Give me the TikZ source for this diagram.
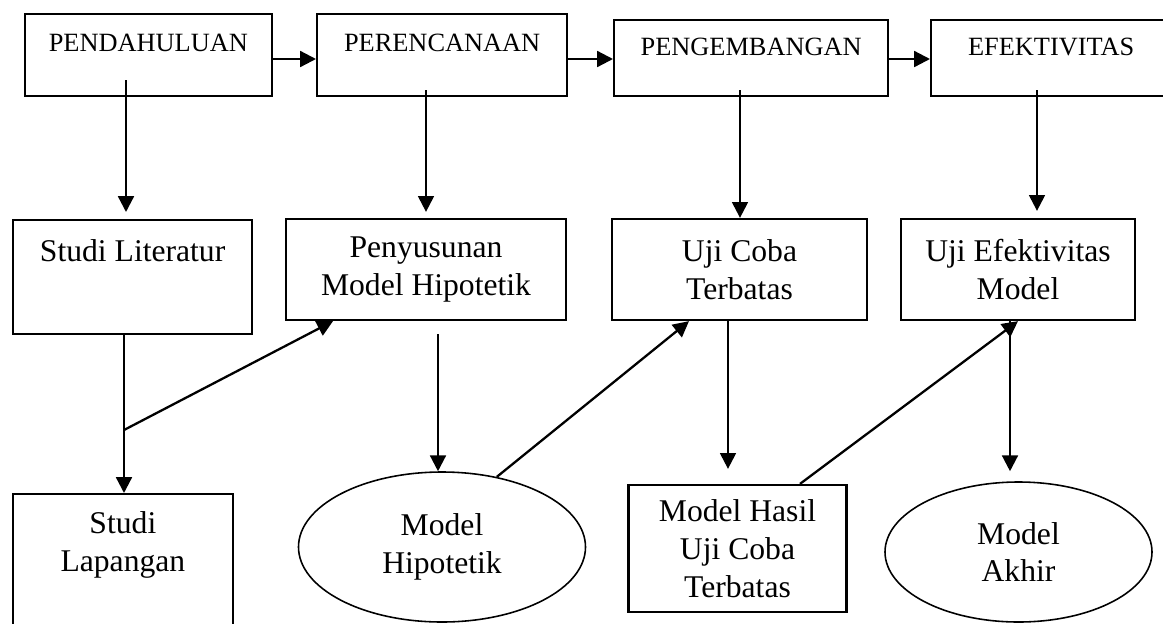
\documentclass[tikz,border=0pt]{standalone}
\usepackage{fontspec}
\setmainfont{Liberation Serif}
\usetikzlibrary{arrows.meta, shapes.geometric}
\newlength{\ux}
\setlength{\ux}{0.02cm}
\tikzset{
    kotak/.style={draw, line width=1.3pt, inner sep=0pt, align=center, font=\fontsize{18}{21.5}\selectfont},
    tahap/.style={kotak, anchor=north west, font=\fontsize{15}{18}\selectfont},
    oval/.style={draw, ellipse, line width=0.9pt, inner sep=0pt, align=center, font=\fontsize{18}{21.5}\selectfont},
    panah/.style={-{Triangle[length=9pt,width=9pt]}, line width=1.3pt},
}
\begin{document}
\begin{tikzpicture}[x=0.02cm, y=-0.02cm]
    \useasboundingbox (0,0) rectangle (1163,623);
    % Tahapan
    \foreach \nama/\teks/\x/\y/\w/\atas/\bawah in {pend/PENDAHULUAN/23.7/13/247/37/45, pere/PERENCANAAN/316/13/250/37/45, peng/PENGEMBANGAN/613/19/274/35/41, efek/EFEKTIVITAS/930/19/240/35/41} {
        \node[tahap, minimum width=\w\ux, text height=\atas\ux, text depth=\bawah\ux] (\nama) at (\x,\y) {\teks};
    }
    % Kegiatan
    \node[kotak, anchor=north west, minimum width=239\ux, text height=41\ux, text depth=73\ux] (lit) at (12,219) {Studi Literatur};
    \foreach \nama/\teks/\x/\w in {susun/{Penyusunan\\Model Hipotetik}/426/280, uji/{Uji Coba\\Terbatas}/739.5/255, efk/{Uji Efektivitas\\Model}/1018/233.5} {
        \node[kotak, minimum width=\w\ux, minimum height=101\ux] (\nama) at (\x,269.5) {\teks};
    }
    % Hasil
    \node[kotak, anchor=north west, minimum width=219.5\ux, minimum height=170\ux] (lap) at (12,493) {Studi\\Lapangan\\~\\~};
    \node[oval, minimum width=287\ux, minimum height=150\ux] (hipo) at (442,547) {Model\\Hipotetik};
    \node[kotak, minimum width=218\ux, minimum height=127\ux] (hasil) at (737.5,548.5) {Model Hasil\\Uji Coba\\Terbatas};
    \node[oval, minimum width=267\ux, minimum height=140\ux] (akhir) at (1018.5,552) {Model\\Akhir};
    % Panah
    \foreach \a/\b in {pend/pere, pere/peng, peng/efek} {
        \draw[panah] (\a.east |- 0,59) -- (\b.west |- 0,59);
    }
    \foreach \a/\b/\x/\s/\e in {pend/lit/126/17/7, pere/susun/426/7/6, peng/uji/740/7/0, efek/efk/1037/7/7} {
        \draw[panah, shorten <=-\s\ux, shorten >=\e\ux] (\a.south -| \x,0) -- (\b.north -| \x,0);
    }
    \coordinate (cabang) at (124,430);
    \draw[panah] (lit.south -| cabang) -- (lap.north -| cabang);
    \draw[panah] (cabang) -- (susun.south -| 333,0);
    \draw[panah, shorten <=13\ux] (susun.south -| 438,0) -- (hipo.north -| 438,0);
    \draw[panah] (hipo.52) -- (uji.south -| 689,0);
    \draw[panah, shorten >=15\ux] (uji.south -| 728,0) -- (hasil.north -| 728,0);
    \draw[panah] (hasil.north -| 800,0) -- (efk.south);
    \draw[panah, shorten >=10\ux] (efk.south -| 1010,0) -- (akhir.north -| 1010,0);
\end{tikzpicture}
\end{document}
